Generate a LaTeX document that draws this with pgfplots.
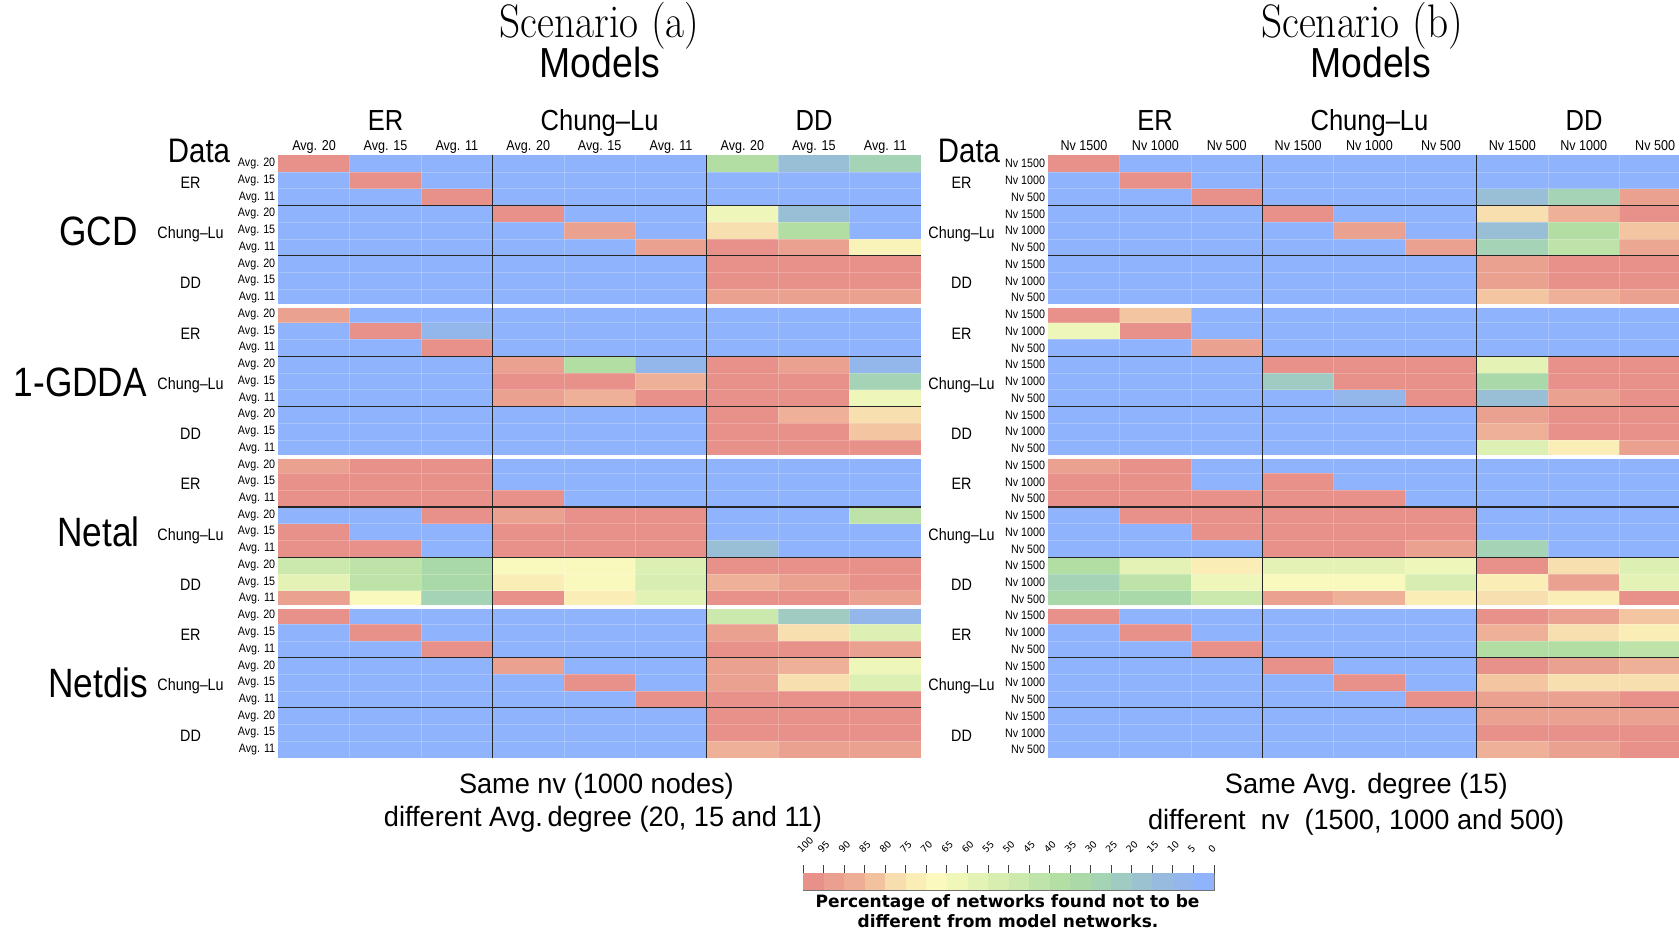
\documentclass[border=0pt]{standalone}
\usepackage{fontspec}
\usepackage{graphicx}
\usepackage{pgfplots}
\usepackage{pgfplotstable}
\pgfplotsset{compat=1.18}
\newfontfamily\lib{Liberation Sans}
\newfontfamily\dej{DejaVu Sans}
\newcommand\fs[1]{\fontsize{#1}{#1}\selectfont}
\newcommand\sx[2]{\scalebox{#1}[1]{#2}}
\newcommand\ca[1]{\sx{0.88}{Avg. #1}}
\newcommand\cn[1]{\sx{0.88}{Nv #1}}

\pgfdeclareplotmark{cell}{\pgfpathrectangle{\pgfqpoint{-35.85pt}{-8.5pt}}{\pgfqpoint{71.7pt}{17pt}}\pgfusepathqfill}
\pgfdeclareplotmark{cbcell}{\pgfpathrectangle{\pgfqpoint{-10.4pt}{-8.5pt}}{\pgfqpoint{20.8pt}{17pt}}\pgfusepathqfill}

\pgfplotsset{
 colormap={pct}{
  rgb255(0pt)=(143,179,252);
  rgb255(2.5pt)=(143,179,252);
  rgb255(7.5pt)=(147,182,236);
  rgb255(12.5pt)=(151,187,222);
  rgb255(17.5pt)=(155,195,207);
  rgb255(22.5pt)=(159,204,194);
  rgb255(27.5pt)=(165,212,180);
  rgb255(32.5pt)=(171,218,168);
  rgb255(37.5pt)=(179,223,164);
  rgb255(42.5pt)=(191,228,169);
  rgb255(47.5pt)=(204,233,174);
  rgb255(52.5pt)=(216,238,177);
  rgb255(57.5pt)=(227,242,181);
  rgb255(62.5pt)=(239,247,185);
  rgb255(67.5pt)=(251,249,190);
  rgb255(72.5pt)=(250,237,181);
  rgb255(77.5pt)=(248,221,174);
  rgb255(82.5pt)=(242,194,158);
  rgb255(87.5pt)=(238,174,149);
  rgb255(92.5pt)=(235,160,143);
  rgb255(97.5pt)=(232,144,138);
  rgb255(100pt)=(232,144,138)
 },
 hm/.style={
  scale only axis, width=642.5pt, height=602.8pt, anchor=south west,
  xmin=-0.5, xmax=8.5, ymin=-0.5, ymax=35.5, y dir=reverse,
  axis line style={draw=none}, tick style={draw=none}, major tick length=0pt,
  xtick={0,...,8}, ytick={0,...,35}, xticklabel pos=upper,
  xticklabel style={font=\lib\fs{14.3}, anchor=base, inner sep=0pt, yshift=4.5pt},
  yticklabel style={font=\lib\fs{12.2}, anchor=east, inner sep=0pt, xshift=-3pt},
  colormap name=pct, point meta min=0, point meta max=100,
  clip=false,
 },
 cells/.style={scatter, only marks, mark=cell, point meta=explicit,
  scatter/use mapped color={draw=none, fill=mapped color}},
}

\pgfplotstableread{
c0 c1 c2 c3 c4 c5 c6 c7 c8
100 0 0 0 0 0 37 15 27
0 100 0 0 0 0 0 0 0
0 0 100 0 0 0 0 0 0
0 0 0 100 0 0 62 15 0
0 0 0 0 92 0 77 37 0
0 0 0 0 0 92 100 92 70
0 0 0 0 0 0 100 100 100
0 0 0 0 0 0 100 100 100
0 0 0 0 0 0 92 92 92
92 0 0 0 0 0 0 0 0
0 100 8 0 0 0 0 0 0
0 0 100 0 0 0 0 0 0
0 0 0 92 37 8 100 92 8
0 0 0 100 100 87 100 100 27
0 0 0 92 87 100 100 100 62
0 0 0 0 0 0 100 87 77
0 0 0 0 0 0 100 100 82
0 0 0 0 0 0 100 100 100
92 100 100 0 0 0 0 0 0
100 100 100 0 0 0 0 0 0
100 100 100 100 0 0 0 0 0
0 0 100 92 100 100 0 0 42
100 0 0 100 100 100 0 0 0
100 100 0 100 100 100 15 0 0
47 42 32 67 67 55 100 100 100
58 42 32 72 67 52 87 92 100
92 67 27 100 72 57 100 100 92
100 0 0 0 0 0 47 22 8
0 100 0 0 0 0 92 77 55
0 0 100 0 0 0 100 100 92
0 0 0 92 0 0 92 87 62
0 0 0 0 100 0 92 77 55
0 0 0 0 0 100 100 100 100
0 0 0 0 0 0 100 100 100
0 0 0 0 0 0 100 100 100
0 0 0 0 0 0 87 92 92
}\dataA

\pgfplotstableread{
c0 c1 c2 c3 c4 c5 c6 c7 c8
100 0 0 0 0 0 0 0 0
0 100 0 0 0 0 0 0 0
0 0 100 0 0 0 15 27 92
0 0 0 100 0 0 77 87 100
0 0 0 0 92 0 15 37 82
0 0 0 0 0 92 27 42 90
0 0 0 0 0 0 92 100 100
0 0 0 0 0 0 92 100 100
0 0 0 0 0 0 82 87 92
100 82 0 0 0 0 0 0 0
62 100 0 0 0 0 0 0 0
0 0 92 0 0 0 0 0 0
0 0 0 100 100 100 58 100 100
0 0 0 22 100 100 32 100 100
0 0 0 0 8 100 15 92 100
0 0 0 0 0 0 92 100 100
0 0 0 0 0 0 87 100 100
0 0 0 0 0 0 55 72 92
92 100 0 0 0 0 0 0 0
100 100 0 100 0 0 0 0 0
100 100 100 100 100 0 0 0 0
0 100 100 100 100 100 0 0 0
0 0 100 100 100 100 0 0 0
0 0 0 100 100 92 27 0 0
37 58 72 58 58 62 100 77 55
27 42 62 67 67 52 72 92 58
32 32 47 92 87 72 77 72 100
100 0 0 0 0 0 100 92 82
0 100 0 0 0 0 87 77 72
0 0 100 0 0 0 37 37 42
0 0 0 100 0 0 100 92 87
0 0 0 0 100 0 82 77 77
0 0 0 0 0 100 92 92 100
0 0 0 0 0 0 92 92 92
0 0 0 0 0 0 100 100 100
0 0 0 0 0 0 87 92 100
}\dataB

\begin{document}
\begin{tikzpicture}[x=1pt,y=1pt]
\useasboundingbox (0,0) rectangle (1679,930);
\clip (0,0) rectangle (1679,930);

% ---------- Scenario (a)
\begin{axis}[hm, at={(278.4pt,171.9pt)},
  xticklabels={\ca{20},\ca{15},\ca{11},\ca{20},\ca{15},\ca{11},\ca{20},\ca{15},\ca{11}},
  yticklabels={\ca{20},\ca{15},\ca{11},\ca{20},\ca{15},\ca{11},\ca{20},\ca{15},\ca{11},
               \ca{20},\ca{15},\ca{11},\ca{20},\ca{15},\ca{11},\ca{20},\ca{15},\ca{11},
               \ca{20},\ca{15},\ca{11},\ca{20},\ca{15},\ca{11},\ca{20},\ca{15},\ca{11},
               \ca{20},\ca{15},\ca{11},\ca{20},\ca{15},\ca{11},\ca{20},\ca{15},\ca{11}}]
\pgfplotsinvokeforeach{0,...,8}{\addplot[cells] table[x expr=#1, y expr=\coordindex, meta=c#1]{\dataA};}
\end{axis}

% ---------- Scenario (b)
\begin{axis}[hm, at={(1048.3pt,171.9pt)},
  xticklabels={\cn{1500},\cn{1000},\cn{500},\cn{1500},\cn{1000},\cn{500},\cn{1500},\cn{1000},\cn{500}},
  yticklabels={\cn{1500},\cn{1000},\cn{500},\cn{1500},\cn{1000},\cn{500},\cn{1500},\cn{1000},\cn{500},
               \cn{1500},\cn{1000},\cn{500},\cn{1500},\cn{1000},\cn{500},\cn{1500},\cn{1000},\cn{500},
               \cn{1500},\cn{1000},\cn{500},\cn{1500},\cn{1000},\cn{500},\cn{1500},\cn{1000},\cn{500},
               \cn{1500},\cn{1000},\cn{500},\cn{1500},\cn{1000},\cn{500},\cn{1500},\cn{1000},\cn{500}}]
\pgfplotsinvokeforeach{0,...,8}{\addplot[cells] table[x expr=#1, y expr=\coordindex, meta=c#1]{\dataB};}
\end{axis}

% ---------- cell grid and separators (drawn over both heatmaps)
\foreach \xo in {278.4,1048.3}{
  \foreach \c in {1,2,4,5,7,8}
    \draw[white, opacity=0.22, line width=0.8pt] ({\xo+\c*71.389},171.9) -- ({\xo+\c*71.389},774.7);
  \foreach \k in {1,2,4,5,7,8,10,11,13,14,16,17,19,20,22,23,25,26,28,29,31,32,34,35}
    \draw[white, opacity=0.22, line width=0.8pt] (\xo,{774.7-\k*16.745}) -- ({\xo+642.5},{774.7-\k*16.745});
  \foreach \k in {9,18,27}
    \draw[white, line width=4pt] ({\xo-1},{774.7-\k*16.745}) -- ({\xo+643.5},{774.7-\k*16.745});
  \foreach \k in {3,6,12,15,21,24,30,33}
    \draw[black!85, line width=1.2pt] (\xo,{774.7-\k*16.745}) -- ({\xo+642.5},{774.7-\k*16.745});
  \foreach \c in {3,6}
    \draw[black!85, line width=1.2pt] ({\xo+\c*71.389},171.9) -- ({\xo+\c*71.389},774.7);
}

% ---------- colour bar
\begin{axis}[at={(803pt,40pt)}, anchor=south west, scale only axis,
  width=411pt, height=17pt, xmin=0, xmax=100, x dir=reverse, ymin=0, ymax=1,
  ytick=\empty, xtick={0,5,...,100}, xtick pos=upper, xticklabel pos=upper,
  tick align=outside, major tick length=8pt,
  tick style={black!75, line width=0.9pt},
  axis line style={black!55, line width=0.8pt},
  /pgf/number format/assume math mode=true,
  xticklabel style={font=\dej\fs{9.5}, xshift=-1.5pt, yshift=11pt, rotate=45, anchor=south west, inner sep=0pt},
  colormap name=pct, point meta min=0, point meta max=100,
  axis on top, clip=false]
\addplot[scatter, only marks, mark=cbcell, point meta=explicit,
  scatter/use mapped color={draw=none, fill=mapped color}]
  table[x=x, y=y, meta=c]{
x y c
2.5 0.5 2.5
7.5 0.5 7.5
12.5 0.5 12.5
17.5 0.5 17.5
22.5 0.5 22.5
27.5 0.5 27.5
32.5 0.5 32.5
37.5 0.5 37.5
42.5 0.5 42.5
47.5 0.5 47.5
52.5 0.5 52.5
57.5 0.5 57.5
62.5 0.5 62.5
67.5 0.5 67.5
72.5 0.5 72.5
77.5 0.5 77.5
82.5 0.5 82.5
87.5 0.5 87.5
92.5 0.5 92.5
97.5 0.5 97.5
};
\end{axis}

% ---------- titles and labels
\node[font=\fs{47}, anchor=base] at (599.6,892) {\sx{0.88}{Scenario (a)}};
\node[font=\fs{47}, anchor=base] at (1362,892) {\sx{0.88}{Scenario (b)}};
\node[font=\lib\fs{42}, anchor=base] at (600,852) {\sx{0.89}{Models}};
\node[font=\lib\fs{42}, anchor=base] at (1370.6,852) {\sx{0.89}{Models}};

\foreach \xx/\lab in {385.5/ER,599.6/Chung–Lu,814/DD,1155/ER,1369.5/Chung–Lu,1584/DD}
  \node[font=\lib\fs{29}, anchor=base] at (\xx,799.4) {\sx{0.88}{\lab}};

\node[font=\lib\fs{34}, anchor=base] at (199,767) {\sx{0.865}{Data}};
\node[font=\lib\fs{34}, anchor=base] at (969,767) {\sx{0.865}{Data}};

\foreach \g/\lab in {0/ER,1/Chung–Lu,2/DD,3/ER,4/Chung–Lu,5/DD,6/ER,7/Chung–Lu,8/DD,9/ER,10/Chung–Lu,11/DD}{
  \node[font=\lib\fs{16.5}, anchor=base] at (190.6,{774.7-(3*\g+1.5)*16.745-8}) {\sx{0.87}{\lab}};
  \node[font=\lib\fs{16.5}, anchor=base] at (961.6,{774.7-(3*\g+1.5)*16.745-8}) {\sx{0.87}{\lab}};
}

\foreach \m/\xx/\lab in {0/98.5/GCD,1/80.3/1-GDDA,2/98.5/Netal,3/98.5/Netdis}
  \node[font=\lib\fs{41}, anchor=base] at (\xx,{774.7-(9*\m+4.5)*16.745-14.7}) {\sx{0.86}{\lab}};

\node[font=\lib\fs{28}, anchor=base] at (596.4,136.5) {\sx{0.97}{Same nv (1000 nodes)}};
\node[font=\lib\fs{28}, anchor=base] at (602.9,103.3) {\sx{0.97}{different Avg.\,degree (20, 15 and 11)}};
\node[font=\lib\fs{28}, anchor=base] at (1366.3,136.5) {\sx{0.97}{Same Avg. degree (15)}};
\node[font=\lib\fs{28}, anchor=base] at (1356.2,101) {\sx{0.97}{different\ \ nv\ \ (1500, 1000 and 500)}};

\node[font=\dej\bfseries\fs{17}, anchor=base] at (1007.6,23) {Percentage of networks found not to be};
\node[font=\dej\bfseries\fs{17}, anchor=base] at (1008,3) {different from model networks.};
\end{tikzpicture}
\end{document}
